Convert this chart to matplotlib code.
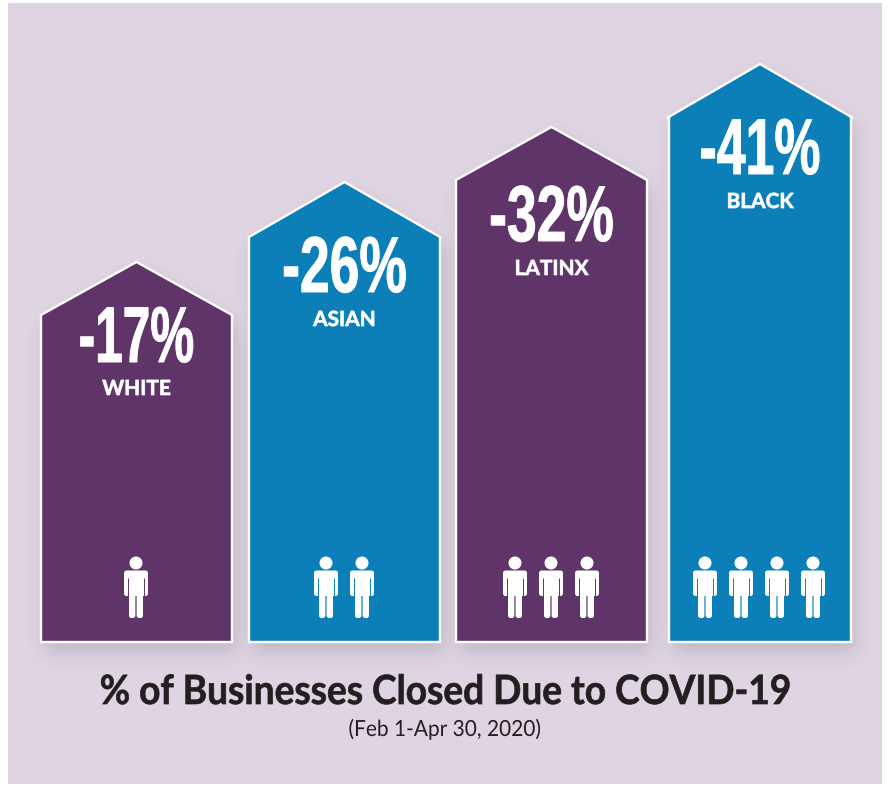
import numpy as np
import matplotlib
matplotlib.use('Agg')
import matplotlib.pyplot as plt
import matplotlib.patheffects as pe
from matplotlib.patches import Polygon, Rectangle, Circle, FancyBboxPatch
from matplotlib.path import Path
from matplotlib.transforms import Affine2D

# data
groups = ['WHITE', 'ASIAN', 'LATINX', 'BLACK']
closed = [-17, -26, -32, -41]
people = [1, 2, 3, 4]
shoulder_h = [327, 405, 462, 524]   # drawn wall height of each house
apex_h = [380, 460, 515, 578]       # drawn height of each roof tip

left = [41, 249, 456, 669]
right = [232, 440, 647, 851]
eave = [0, 0, 0, 2]
first_person = [136, 326, 515, 705]
person_step = 36
colors = ['#5F3468', '#0C7FB8', '#5F3468', '#0C7FB8']
pct_drop = [280, 350, 401, 468]     # baseline of the big number, above the base
label_drop = [247, 316, 367, 434]
pct_squeeze = [0.625, 0.675, 0.675, 0.655]
ink = '#231F20'


class Squeeze(pe.AbstractPathEffect):
    # condensed look for text, it stays text
    def __init__(self, sx, cx, stroke=0.0):
        super().__init__()
        self.sx = sx
        self.cx = cx
        self.stroke = stroke

    def draw_path(self, renderer, gc, tpath, affine, rgbFace=None):
        squeeze = Affine2D().translate(-self.cx, 0).scale(self.sx, 1).translate(self.cx, 0)
        gc0 = renderer.new_gc()
        gc0.copy_properties(gc)
        if self.stroke > 0:
            gc0.set_foreground(rgbFace)
            gc0.set_linewidth(self.stroke)
        renderer.draw_path(gc0, tpath, affine + squeeze, rgbFace)
        gc0.restore()


def draw_person(ax, x, back):
    ax.add_patch(Circle((x, 79), 6.5, fc='white', ec='none', zorder=5))
    ax.add_patch(FancyBboxPatch((x - 12, 46), 24, 25.5, boxstyle='round,pad=0,rounding_size=2.5',
                                fc='white', ec='none', zorder=5))
    for dx in (-7, 0.6):
        ax.add_patch(FancyBboxPatch((x + dx, 24), 6.4, 30, boxstyle='round,pad=0,rounding_size=2.5',
                                    fc='white', ec='none', zorder=5))
    for dx in (-8, 8):
        ax.plot([x + dx, x + dx], [45, 64], color=back, lw=0.7, zorder=6, solid_capstyle='butt')


def house_points(i):
    x0, x1 = left[i], right[i]
    mid = (x0 + x1) / 2
    return [(x0, 0), (x1, 0), (x1, shoulder_h[i]), (x1 + eave[i], shoulder_h[i]),
            (mid, apex_h[i]), (x0 - eave[i], shoulder_h[i]), (x0, shoulder_h[i])]


def soft_shadow(ax, dx=4, dy=-10, sigma=9, strength=0.2):
    # blurred copy of all the houses, laid under them
    xs = np.arange(8, 882) + 0.5
    ys = np.arange(-142, 639) + 0.5
    gx, gy = np.meshgrid(xs, ys)
    grid = np.column_stack([gx.ravel(), gy.ravel()])
    mask = np.zeros(gx.shape)
    for i in range(len(groups)):
        shape = Path([(px + dx, py + dy) for px, py in house_points(i)] + [(left[i] + dx, dy)])
        mask = np.maximum(mask, shape.contains_points(grid).reshape(gx.shape))
    fx = np.fft.fftfreq(mask.shape[1])[None, :]
    fy = np.fft.fftfreq(mask.shape[0])[:, None]
    blur = np.exp(-2 * (np.pi * sigma) ** 2 * (fx ** 2 + fy ** 2))
    soft = np.clip(np.fft.ifft2(np.fft.fft2(mask) * blur).real, 0, 1)
    rgba = np.zeros(mask.shape + (4,))
    rgba[..., :3] = np.array([74, 64, 80]) / 255
    rgba[..., 3] = soft * strength
    ax.imshow(rgba, origin='lower', extent=(8, 882, -142, 639), aspect='auto',
              interpolation='bilinear', zorder=1)


fig = plt.figure(figsize=(8.9, 7.85), dpi=100, facecolor='white')
ax = fig.add_axes([0, 0, 1, 1])
ax.add_patch(Rectangle((8, -142), 874, 781, fc='#DFD5E2', ec='none', zorder=0))
soft_shadow(ax)
ax.set_xlim(0, 890)
ax.set_ylim(-143, 642)
ax.axis('off')

for i, g in enumerate(groups):
    mid = (left[i] + right[i]) / 2
    ax.add_patch(Polygon(house_points(i), closed=True, fc=colors[i], ec='white', lw=1.7,
                         joinstyle='miter', zorder=2 + i * 0.1))

    ax.text(mid, pct_drop[i], f'{closed[i]}%', color='white', ha='center', va='baseline',
            family='Liberation Sans', weight='bold', fontsize=57, zorder=5,
            path_effects=[Squeeze(pct_squeeze[i], mid, stroke=0.7)])
    ax.text(mid, label_drop[i], g, color='white', ha='center', va='baseline',
            family='Lato', weight='bold', fontsize=15, zorder=5,
            path_effects=[Squeeze(1.0, mid, stroke=0.5)])

    for k in range(people[i]):
        draw_person(ax, first_person[i] + k * person_step, colors[i])

ax.text(445, -62, '% of Businesses Closed Due to COVID-19', color=ink, ha='center',
        va='baseline', family='Lato', weight='bold', fontsize=29, zorder=5,
        path_effects=[Squeeze(0.92, 445, stroke=0.5)])
ax.text(445, -94, '(Feb 1-Apr 30, 2020)', color=ink, ha='center', va='baseline',
        family='Lato', fontsize=16, zorder=5, path_effects=[Squeeze(0.94, 445)])

fig.savefig('out.png', dpi=100)
